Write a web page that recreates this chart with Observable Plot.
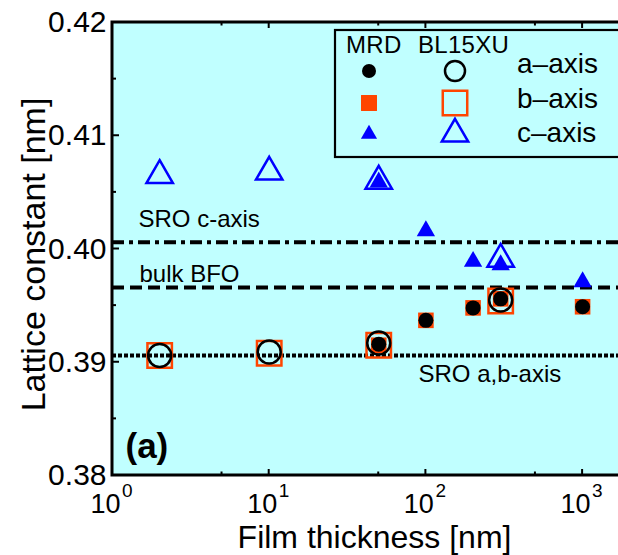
<!DOCTYPE html>
<html><head><meta charset="utf-8">
<script src="https://cdn.jsdelivr.net/npm/d3@7"></script>
<script src="https://cdn.jsdelivr.net/npm/@observablehq/plot@0.6"></script>
<style>
html,body{margin:0;padding:0;background:#fff;overflow:hidden;}
svg{overflow:hidden;display:block;}
</style></head><body><div id="chart"></div>
<script>
// ---- data ----
const mrdThickness = [50, 100, 200, 300, 1000];
const mrdA = [0.3916, 0.3937, 0.3948, 0.3956, 0.3949];
const mrdB = [0.3915, 0.3937, 0.3948, 0.3956, 0.3949];
const mrdC = [0.4059, 0.4016, 0.3989, 0.3986, 0.3971];

const blThickness = [2, 10, 50, 300];
const blA = [0.3906, 0.3909, 0.3917, 0.3955];
const blB = [0.3906, 0.3908, 0.3915, 0.3954];
const blC = [0.4065, 0.4068, 0.4060, 0.3991];

const refNames = ["SRO c-axis", "bulk BFO", "SRO a,b-axis"];
const refValues = [0.4006, 0.3966, 0.3906];

const xTicksMajor = [1, 10, 100, 1000];
const xTickExponents = ["0", "1", "2", "3"];
const xTicksMinor = [5, 50, 500];
const yTicksMajor = [0.38, 0.39, 0.40, 0.41, 0.42];
const yTicksMinor = [0.385, 0.395, 0.405, 0.415];

const legendHeaders = ["MRD", "BL15XU"];
const legendLabels = ["a\u2013axis", "b\u2013axis", "c\u2013axis"];

const xLabel = "Film thickness [nm]";
const yLabel = "Lattice constant [nm]";
const panelLabel = "(a)";

// ---- tables ----
const toRows = (xs, ys) => xs.map((t, i) => ({t, v: ys[i]}));
const mA = toRows(mrdThickness, mrdA), mB = toRows(mrdThickness, mrdB), mC = toRows(mrdThickness, mrdC);
const bA = toRows(blThickness, blA), bB = toRows(blThickness, blB), bC = toRows(blThickness, blC);

const BG = "#c0ffff", ORANGE = "#ff4500", BLUE = "#0000ff";
const FONT = "Liberation Sans, Arial, Helvetica, sans-serif";

function decor(index, scales, values, dims) {
  const x = scales.x, y = scales.y;
  const L = dims.marginLeft, T = dims.marginTop, B = dims.height - dims.marginBottom;
  const g = d3.create("svg:g").attr("fill", "none").attr("stroke", "black");
  // frame (left, top, bottom)
  g.append("path").attr("stroke-width", 3)
    .attr("d", `M${dims.width + 5},${T}H${L}V${B}H${dims.width + 5}`);
  // ticks
  const tk = (arr, len) => {
    for (const t of arr) {
      const px = x(t);
      g.append("line").attr("x1", px).attr("x2", px).attr("y1", B).attr("y2", B - len).attr("stroke-width", 2);
      g.append("line").attr("x1", px).attr("x2", px).attr("y1", T).attr("y2", T + len).attr("stroke-width", 2);
    }
  };
  tk(xTicksMajor.slice(1), 6); tk(xTicksMinor, 3.5);
  const tky = (arr, len) => {
    for (const t of arr) {
      const py = y(t);
      g.append("line").attr("x1", L).attr("x2", L + len).attr("y1", py).attr("y2", py).attr("stroke-width", 2);
    }
  };
  tky(yTicksMajor.slice(1, -1), 7); tky(yTicksMinor, 4);

  // legend
  const lg = d3.create("svg:g").attr("font-family", FONT).attr("text-anchor", "start");
  lg.append("rect").attr("x", 335).attr("y", 30).attr("width", 320).attr("height", 127)
    .attr("fill", BG).attr("stroke", "black").attr("stroke-width", 2.2);
  const hx = [346, 418];
  legendHeaders.forEach((h, i) => lg.append("text").attr("x", hx[i]).attr("y", 53)
    .attr("text-anchor", "start").attr("font-size", 24).attr("letter-spacing", 0.3)
    .attr("fill", "black").text(h));
  const rowY = [71, 103, 134];
  const textY = [73, 108, 142];
  const sym = (type, r) => d3.symbol(type, r * r * Math.PI)();
  const specs = [
    {type: d3.symbolCircle, rf: 7, ro: 10, col: "black"},
    {type: d3.symbolSquare, rf: 9, ro: 13.8, col: ORANGE},
    {type: d3.symbolTriangle, rf: 6, ro: 9.8, col: BLUE}
  ];
  specs.forEach((s, i) => {
    lg.append("path").attr("d", sym(s.type, s.rf)).attr("transform", `translate(369,${rowY[i]})`)
      .attr("fill", s.col).attr("stroke", "none");
    lg.append("path").attr("d", sym(s.type, s.ro)).attr("transform", `translate(455,${rowY[i]})`)
      .attr("fill", "none").attr("stroke", s.col).attr("stroke-width", 2.5);
    lg.append("text").attr("x", 517).attr("y", textY[i]).attr("text-anchor", "start")
      .attr("font-size", 28).attr("fill", "black").text(legendLabels[i]);
  });
  const outer = d3.create("svg:g");
  outer.append(() => g.node());
  outer.append(() => lg.node());
  return outer.node();
}

const textStyle = {fontFamily: FONT, fill: "black"};

const chart = Plot.plot({
  width: 618,
  height: 555,
  marginLeft: 112,
  marginRight: 0,
  marginTop: 22,
  marginBottom: 80,
  style: {background: "white", fontFamily: FONT},
  x: {type: "log", domain: [1, 10000], range: [112, 112 + 4 * 156.7], axis: null},
  y: {domain: [0.38, 0.42], axis: null},
  marks: [
    Plot.frame({fill: BG, stroke: "none"}),
    // reference lines
    Plot.ruleY([refValues[0]], {stroke: "black", strokeWidth: 4, strokeDasharray: "12,5,4,5"}),
    Plot.ruleY([refValues[1]], {stroke: "black", strokeWidth: 4, strokeDasharray: "12,6"}),
    Plot.ruleY([refValues[2]], {stroke: "black", strokeWidth: 4, strokeDasharray: "4,2"}),
    Plot.text([refNames[0]], {text: d => d, frameAnchor: "left", y: () => refValues[0], dx: 26, dy: -15,
      textAnchor: "start", lineAnchor: "bottom", fontSize: 24, letterSpacing: 1.2, ...textStyle}),
    Plot.text([refNames[1]], {text: d => d, frameAnchor: "left", y: () => refValues[1], dx: 27, dy: -5.5,
      textAnchor: "start", lineAnchor: "bottom", fontSize: 24, letterSpacing: 1.5, ...textStyle}),
    Plot.text([refNames[2]], {text: d => d, frameAnchor: "left", y: () => refValues[2], dx: 306, dy: 27,
      textAnchor: "start", lineAnchor: "bottom", fontSize: 24, letterSpacing: 1.2, ...textStyle}),
    // squares (b-axis)
    Plot.dot(mB, {x: "t", y: "v", symbol: "square", r: 8.8, fill: ORANGE, stroke: "none"}),
    Plot.dot(bB, {x: "t", y: "v", symbol: "square", r: 13.8, fill: "none", stroke: ORANGE, strokeWidth: 2.5}),
    // circles (a-axis)
    Plot.dot(bA, {x: "t", y: "v", r: 11.5, fill: "none", stroke: "black", strokeWidth: 2.5}),
    Plot.dot(mA, {x: "t", y: "v", r: 7.5, fill: "black", stroke: "none"}),
    // triangles (c-axis)
    Plot.dot(bC, {x: "t", y: "v", symbol: "triangle", r: 9.8, fill: "none", stroke: BLUE, strokeWidth: 2.5}),
    Plot.dot(mC, {x: "t", y: "v", symbol: "triangle", r: 6.8, fill: BLUE, stroke: "none"}),
    // frame, ticks, legend
    decor,
    // tick labels
    Plot.text(yTicksMajor, {y: d => d, frameAnchor: "left", dx: -6, textAnchor: "end",
      text: d3.format(".2f"), fontSize: 30, ...textStyle}),
    Plot.text(xTicksMajor, {x: d => d, frameAnchor: "bottom", text: () => "10", dx: 8, dy: 37,
      textAnchor: "end", lineAnchor: "bottom", fontSize: 27, ...textStyle}),
    Plot.text(xTicksMajor, {x: d => d, frameAnchor: "bottom", text: (d, i) => xTickExponents[i], dx: 9.5, dy: 21,
      textAnchor: "start", lineAnchor: "bottom", fontSize: 19, ...textStyle}),
    // axis titles
    Plot.text([xLabel], {text: d => d, frameAnchor: "bottom", dx: 9, dy: 72.5, textAnchor: "middle",
      lineAnchor: "bottom", fontSize: 32, letterSpacing: 2.2, ...textStyle}),
    Plot.text([yLabel], {text: d => d, frameAnchor: "left", rotate: -90, dx: -68, dy: 5.5, textAnchor: "middle",
      lineAnchor: "bottom", fontSize: 34, ...textStyle}),
    // panel label
    Plot.text([panelLabel], {text: d => d, frameAnchor: "bottom-left", dx: 13, dy: -18, textAnchor: "start",
      lineAnchor: "bottom", fontSize: 35, fontWeight: "bold", letterSpacing: 2, ...textStyle})
  ]
});
document.getElementById("chart").appendChild(chart);
</script>
</body></html>
